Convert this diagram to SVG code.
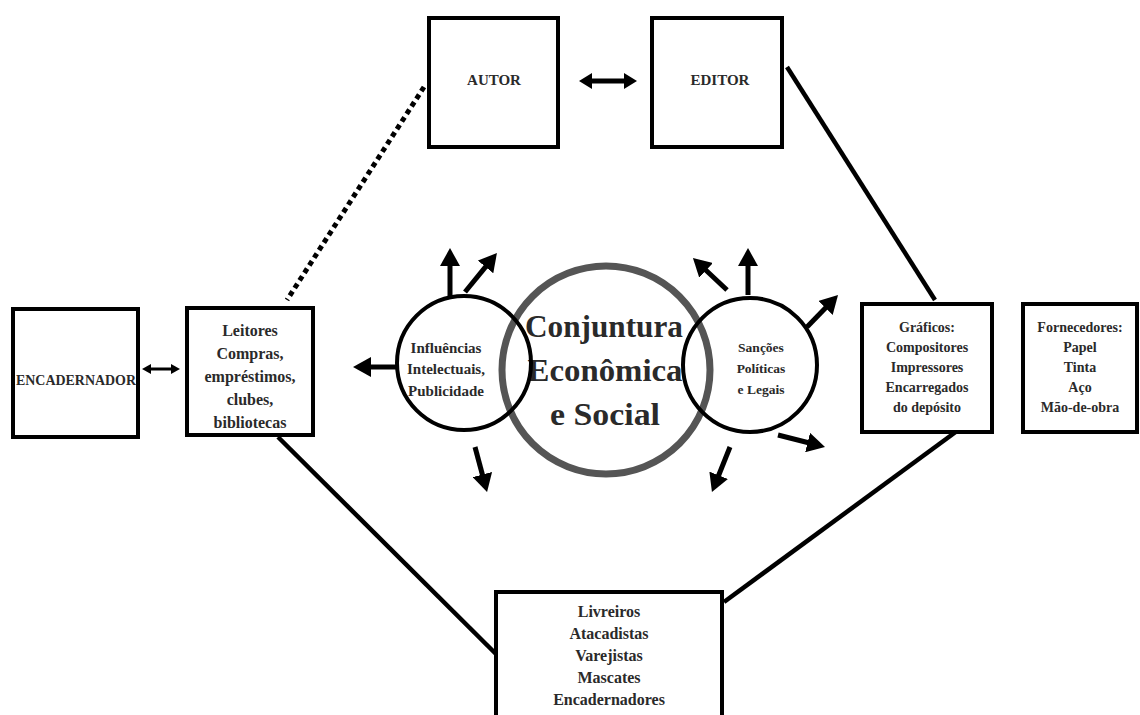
<svg xmlns="http://www.w3.org/2000/svg" width="1140" height="715" viewBox="0 0 1140 715">
<style>
.box{fill:#fff;stroke:#000;stroke-width:4}
.t{font-family:"Liberation Serif","Times New Roman",serif;font-weight:bold;fill:#2a2a2a;text-anchor:middle}
.ln{stroke:#000;stroke-width:4.5;fill:none}
.arr{stroke:#000;stroke-width:5;fill:none;marker-end:url(#ah)}
</style>
<defs>
<marker id="ah" markerUnits="userSpaceOnUse" markerWidth="18" markerHeight="20" refX="2" refY="10" orient="auto"><path d="M0,0 L18,10 L0,20 z" fill="#000"/></marker>
<marker id="dh" markerUnits="userSpaceOnUse" markerWidth="13" markerHeight="16" refX="2" refY="8" orient="auto-start-reverse"><path d="M0,0 L13,8 L0,16 z" fill="#000"/></marker>
<marker id="sh" markerUnits="userSpaceOnUse" markerWidth="9" markerHeight="10" refX="2" refY="5" orient="auto-start-reverse"><path d="M0,0 L9,5 L0,10 z" fill="#000"/></marker>
</defs>
<rect width="1140" height="715" fill="#fff"/>
<g id="connectors">
<line x1="424" y1="87" x2="287" y2="300" stroke="#000" stroke-width="5" stroke-dasharray="5,4"/>
<line class="ln" x1="787" y1="67" x2="935" y2="300"/>
<line class="ln" x1="278" y1="437" x2="500" y2="658"/>
<line class="ln" x1="957" y1="431" x2="724" y2="602"/>
<line x1="590" y1="81" x2="626" y2="81" stroke="#000" stroke-width="5" marker-start="url(#dh)" marker-end="url(#dh)"/>
<line x1="149" y1="369" x2="173" y2="369" stroke="#000" stroke-width="3" marker-start="url(#sh)" marker-end="url(#sh)"/>
<line class="arr" x1="450" y1="297" x2="450" y2="264"/>
<line class="arr" x1="465" y1="292" x2="486.8" y2="265.4"/>
<line class="arr" x1="397" y1="367" x2="369" y2="367"/>
<line class="arr" x1="475" y1="447" x2="482.9" y2="476.5"/>
<line class="arr" x1="727" y1="290" x2="704.6" y2="269"/>
<line class="arr" x1="748" y1="295" x2="748" y2="264"/>
<line class="arr" x1="807" y1="327" x2="826.9" y2="306.5"/>
<line class="arr" x1="778" y1="435" x2="809.5" y2="443"/>
<line class="arr" x1="730" y1="447" x2="717.9" y2="477.2"/>
</g>
<g id="autor"><rect class="box" x="429" y="18" width="129" height="129"/><text class="t" x="494" y="85" font-size="15">AUTOR</text></g>
<g id="editor"><rect class="box" x="652" y="18" width="130" height="129"/><text class="t" x="720" y="85" font-size="15">EDITOR</text></g>
<g id="encadernador"><rect class="box" x="13" y="309" width="125" height="128"/><text class="t" x="76" y="385" font-size="14" textLength="120" lengthAdjust="spacingAndGlyphs">ENCADERNADOR</text></g>
<g id="leitores"><rect class="box" x="187" y="308" width="126" height="127"/>
<text class="t" font-size="16"><tspan x="250" y="336">Leitores</tspan><tspan x="250" y="359">Compras,</tspan><tspan x="250" y="382">empréstimos,</tspan><tspan x="250" y="405">clubes,</tspan><tspan x="250" y="428">bibliotecas</tspan></text></g>
<g id="graficos"><rect class="box" x="862" y="304" width="130" height="128"/>
<text class="t" font-size="14"><tspan x="927" y="332">Gráficos:</tspan><tspan x="927" y="352">Compositores</tspan><tspan x="927" y="372">Impressores</tspan><tspan x="927" y="392">Encarregados</tspan><tspan x="927" y="412">do depósito</tspan></text></g>
<g id="fornecedores"><rect class="box" x="1023" y="304" width="114" height="128"/>
<text class="t" font-size="14"><tspan x="1080" y="332">Fornecedores:</tspan><tspan x="1080" y="352">Papel</tspan><tspan x="1080" y="372">Tinta</tspan><tspan x="1080" y="392">Aço</tspan><tspan x="1080" y="412">Mão-de-obra</tspan></text></g>
<g id="livreiros"><rect class="box" x="496" y="592" width="226" height="140"/>
<text class="t" font-size="16"><tspan x="609" y="617">Livreiros</tspan><tspan x="609" y="639">Atacadistas</tspan><tspan x="609" y="661">Varejistas</tspan><tspan x="609" y="683">Mascates</tspan><tspan x="609" y="705">Encadernadores</tspan></text></g>
<g id="conjuntura"><circle cx="606" cy="370" r="104" fill="none" stroke="#555" stroke-width="7"/>
<text class="t" font-size="31" fill="#222"><tspan x="604" y="337" textLength="158" lengthAdjust="spacingAndGlyphs">Conjuntura</tspan><tspan x="605" y="381" textLength="155" lengthAdjust="spacingAndGlyphs">Econômica</tspan><tspan x="605" y="425" textLength="110" lengthAdjust="spacingAndGlyphs">e Social</tspan></text></g>
<g id="influencias"><circle cx="464" cy="363" r="67" fill="none" stroke="#000" stroke-width="4"/>
<text class="t" font-size="15"><tspan x="446" y="353">Influências</tspan><tspan x="446" y="374">Intelectuais,</tspan><tspan x="446" y="396">Publicidade</tspan></text></g>
<g id="sancoes"><circle cx="750" cy="365" r="67" fill="none" stroke="#000" stroke-width="4"/>
<text class="t" font-size="13.5"><tspan x="761" y="352">Sanções</tspan><tspan x="761" y="373">Políticas</tspan><tspan x="761" y="394">e Legais</tspan></text></g>
</svg>
